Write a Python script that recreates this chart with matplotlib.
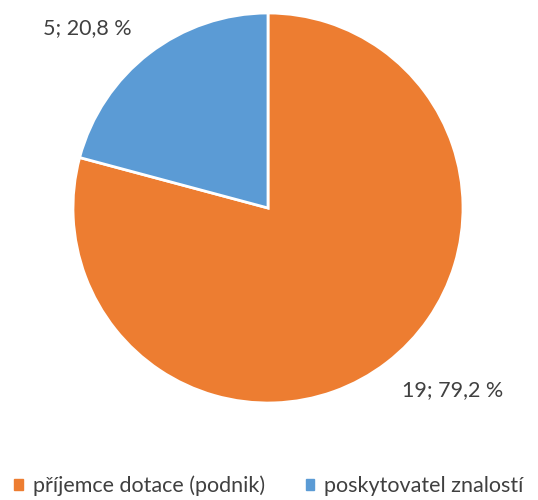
import matplotlib.pyplot as plt

categories = ['příjemce dotace (podnik)', 'poskytovatel znalostí']
counts = [19, 5]
percents = [79.2, 20.8]
colors = ['#ED7D31', '#5B9BD5']

plt.rcParams['font.family'] = ['Lato', 'DejaVu Sans']

fig = plt.figure(figsize=(5.38, 5.0), dpi=100)
ax = fig.add_axes([73 / 538, 97 / 500, 390 / 538, 390 / 500])

wedges, _ = ax.pie(counts, colors=colors, startangle=90, counterclock=False,
                   radius=1.0, wedgeprops=dict(edgecolor='white', linewidth=2))
ax.set_xlim(-1, 1)
ax.set_ylim(-1, 1)
ax.set_aspect('equal')
ax.axis('off')

# data labels
label_pos = [(0.949, -0.933), (-0.928, 0.923)]
for (x, y), n, p in zip(label_pos, counts, percents):
    txt = f"{n}; {p:.1f} %".replace('.', ',')
    ax.text(x, y, txt, ha='center', va='center', fontsize=15.5, color='#404040',
            clip_on=False)

handles = [plt.Rectangle((0, 0), 1, 1, color=c) for c in colors]
fig.legend(handles, categories, loc='center', bbox_to_anchor=(0.5, 1 - 486 / 500),
           ncol=2, frameon=False, fontsize=15.5, labelcolor='#404040',
           handlelength=0.4, handleheight=0.4, handletextpad=0.45, columnspacing=1.9)

fig.savefig('out.png', dpi=100)
